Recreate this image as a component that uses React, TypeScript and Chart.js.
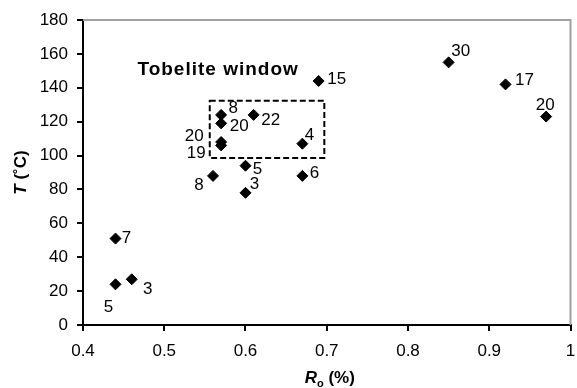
import React, { useEffect, useRef } from "react";
import { Chart, registerables } from "chart.js";

Chart.register(...registerables);

const roValues = [0.44, 0.44, 0.46, 0.56, 0.57, 0.57, 0.57, 0.57, 0.6, 0.6, 0.61, 0.67, 0.67, 0.69, 0.85, 0.92, 0.97];
const tempValues = [51, 24, 27, 88, 124, 119, 108, 106, 94, 78, 124, 107, 88, 144, 155, 142, 123];
const pointLabels = ["7", "5", "3", "8", "8", "20", "20", "19", "5", "3", "22", "4", "6", "15", "30", "17", "20"];
// label offsets (pixels) relative to each point
const labelOffsets: [number, number][] = [
  [11, 0], [-7, 23], [16, 10], [-14, 9], [12, -7], [18, 3], [-27, -6], [-25, 8],
  [12, 4], [9, -9], [17, 5], [7, -8], [12, -3], [18, -2], [12, -11], [19, -4], [-1, -11],
];
const windowBox = { xMin: 0.556, xMax: 0.697, yMin: 98.6, yMax: 132.4 };
const windowText = "Tobelite window";
const windowTextAnchor = { x: 0.467, y: 150.5 };
const xTicks = { min: 0.4, max: 1, step: 0.1 };
const yTicks = { min: 0, max: 180, step: 20 };

const FONT = '"Liberation Sans", Arial, Helvetica, sans-serif';

const overlayPlugin = {
  id: "overlay",
  beforeDatasetsDraw(chart: any) {
    const { ctx, chartArea: a, scales } = chart;
    ctx.save();
    // grey plot-area frame (top & right)
    ctx.strokeStyle = "#a0a0a0";
    ctx.lineWidth = 2;
    ctx.beginPath();
    ctx.moveTo(a.left, a.top);
    ctx.lineTo(a.right, a.top);
    ctx.lineTo(a.right, a.bottom);
    ctx.stroke();
    // dashed window box
    const x1 = scales.x.getPixelForValue(windowBox.xMin);
    const x2 = scales.x.getPixelForValue(windowBox.xMax);
    const y1 = scales.y.getPixelForValue(windowBox.yMax);
    const y2 = scales.y.getPixelForValue(windowBox.yMin);
    ctx.strokeStyle = "#000";
    ctx.lineWidth = 2;
    ctx.setLineDash([6, 3]);
    ctx.strokeRect(x1, y1, x2 - x1, y2 - y1);
    ctx.setLineDash([]);
    ctx.restore();
  },
  afterDatasetsDraw(chart: any) {
    const { ctx, scales } = chart;
    ctx.save();
    ctx.fillStyle = "#000";
    // point labels
    ctx.font = `17px ${FONT}`;
    ctx.textAlign = "center";
    ctx.textBaseline = "middle";
    const meta = chart.getDatasetMeta(0);
    meta.data.forEach((el: any, i: number) => {
      const [dx, dy] = labelOffsets[i];
      ctx.fillText(pointLabels[i], el.x + dx, el.y + dy);
    });
    // window text
    ctx.save();
    ctx.font = `bold 19px ${FONT}`;
    ctx.textAlign = "left";
    try { (ctx as any).letterSpacing = "1px"; } catch (e) {}
    ctx.fillText(windowText, scales.x.getPixelForValue(windowTextAnchor.x), scales.y.getPixelForValue(windowTextAnchor.y));
    ctx.restore();
    // y title
    const a = chart.chartArea;
    ctx.save();
    ctx.translate(21, (a.top + a.bottom) / 2);
    ctx.rotate(-Math.PI / 2);
    ctx.textBaseline = "middle";
    ctx.textAlign = "left";
    ctx.font = `italic bold 17px ${FONT}`;
    const t1 = "T";
    const w1 = ctx.measureText(t1).width;
    ctx.font = `bold 17px ${FONT}`;
    const t2 = " (˚C)";
    const w2 = ctx.measureText(t2).width;
    const sx = -(w1 + w2) / 2;
    ctx.font = `italic bold 17px ${FONT}`;
    ctx.fillText(t1, sx, 0);
    ctx.font = `bold 17px ${FONT}`;
    ctx.fillText(t2, sx + w1, 0);
    ctx.restore();
    // x title
    ctx.textBaseline = "alphabetic";
    ctx.textAlign = "left";
    const cx = (a.left + a.right) / 2 + 3;
    const by = 383;
    ctx.font = `italic bold 17px ${FONT}`;
    const r = "R";
    const rw = ctx.measureText(r).width;
    ctx.font = `bold 11px ${FONT}`;
    const o = "o";
    const ow = ctx.measureText(o).width;
    ctx.font = `bold 17px ${FONT}`;
    const p = " (%)";
    const pw = ctx.measureText(p).width;
    const x0 = cx - (rw + ow + pw) / 2;
    ctx.font = `italic bold 17px ${FONT}`;
    ctx.fillText(r, x0, by);
    ctx.font = `bold 11px ${FONT}`;
    ctx.fillText(o, x0 + rw, by + 4);
    ctx.font = `bold 17px ${FONT}`;
    ctx.fillText(p, x0 + rw + ow, by);
    ctx.restore();
  },
};

export default function App() {
  const ref = useRef<HTMLCanvasElement | null>(null);
  useEffect(() => {
    if (!ref.current) return;
    const data = roValues.map((x, i) => ({ x, y: tempValues[i] }));
    const chart = new Chart(ref.current, {
      type: "scatter",
      data: {
        datasets: [
          {
            data,
            pointStyle: "rectRot",
            pointRadius: 5.5,
            pointBackgroundColor: "#000",
            pointBorderColor: "#000",
            pointBorderWidth: 1,
          },
        ],
      },
      options: {
        animation: false,
        responsive: false,
        events: [],
        layout: { padding: { left: 0, top: 20, right: 4, bottom: 0 } },
        plugins: { legend: { display: false }, tooltip: { enabled: false } },
        scales: {
          x: {
            type: "linear",
            min: xTicks.min,
            max: xTicks.max,
            afterFit: (s: any) => { s.height = 63; s.paddingLeft = 0; s.paddingRight = 0; },
            border: { display: true, color: "#000", width: 2 },
            grid: { drawOnChartArea: false, drawTicks: true, tickLength: 6, color: "#000", lineWidth: 2 },
            ticks: {
              stepSize: xTicks.step,
              color: "#000",
              padding: 10,
              maxRotation: 0,
              autoSkip: false,
              font: { size: 17, family: FONT },
              callback: (v: any) => String(Number(Number(v).toFixed(1))),
            },
          },
          y: {
            type: "linear",
            min: yTicks.min,
            max: yTicks.max,
            afterFit: (s: any) => { s.width = 83; s.paddingTop = 0; s.paddingBottom = 0; },
            border: { display: true, color: "#000", width: 2 },
            grid: { drawOnChartArea: false, drawTicks: true, tickLength: 6, color: "#000", lineWidth: 2 },
            ticks: {
              stepSize: yTicks.step,
              color: "#000",
              padding: 9,
              font: { size: 17, family: FONT },
            },
          },
        },
      },
      plugins: [overlayPlugin],
    });
    return () => chart.destroy();
  }, []);
  return (
    <div style={{ position: "absolute", left: 0, top: 0, width: 577, height: 388, background: "#fff" }}>
      <canvas ref={ref} width={577} height={388} style={{ width: 577, height: 388 }} />
    </div>
  );
}
